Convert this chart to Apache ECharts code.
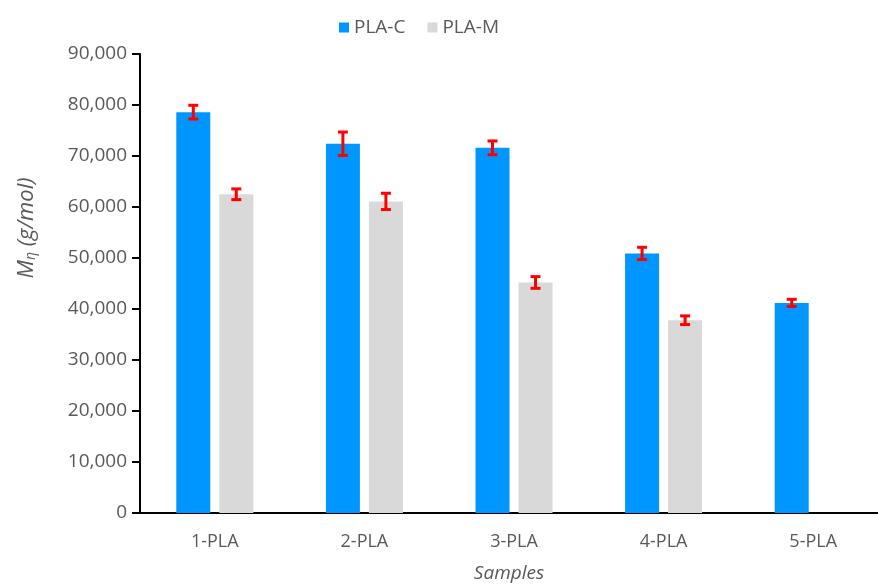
<!DOCTYPE html>
<html>
<head>
<meta charset="utf-8">
<script src="https://cdn.jsdelivr.net/npm/echarts@6/dist/echarts.min.js"></script>
<style>
  html, body { margin: 0; padding: 0; background: #fff; overflow: hidden; }
  #chart { width: 878px; height: 585px; }
</style>
</head>
<body>
<div id="chart"></div>
<script>
// Viscosity-average molecular weight per sample
const categories = ['1-PLA', '2-PLA', '3-PLA', '4-PLA', '5-PLA'];
const seriesNames = ['PLA-C', 'PLA-M'];
const plaC = [78600, 72400, 71600, 50900, 41200];
const plaCErr = [1350, 2300, 1350, 1200, 700];
const plaM = [62500, 61100, 45200, 37800, null];
const plaMErr = [1050, 1600, 1150, 850, null];
const yTicks = { min: 0, max: 90000, interval: 10000 };

const BAR_W = 34;
const BAR_GAP = 9;
const TEXT = '#595959';
const FONT = 'Open Sans';

// I-beam error bar drawn at the bar's value, shifted to the bar's slot
function errorSeries(values, errors, offset) {
  const data = values.map((v, i) => v == null ? null : [i, v, errors[i]]).filter(d => d);
  return {
    type: 'custom',
    z: 10,
    silent: true,
    clip: false,
    data: data,
    encode: { x: 0, y: 1 },
    renderItem: function (params, api) {
      const i = api.value(0), v = api.value(1), e = api.value(2);
      const hi = api.coord([i, v + e]);
      const lo = api.coord([i, v - e]);
      const x = hi[0] + offset;
      const cap = 5;
      const style = { stroke: '#FF0000', lineWidth: 3 };
      return {
        type: 'group',
        children: [
          { type: 'line', shape: { x1: x, y1: hi[1], x2: x, y2: lo[1] }, style: style },
          { type: 'line', shape: { x1: x - cap, y1: hi[1], x2: x + cap, y2: hi[1] }, style: style },
          { type: 'line', shape: { x1: x - cap, y1: lo[1], x2: x + cap, y2: lo[1] }, style: style }
        ]
      };
    }
  };
}

const chart = echarts.init(document.getElementById('chart'), null, { renderer: 'canvas' });
const half = (BAR_W + BAR_GAP) / 2;

chart.setOption({
  animation: false,
  backgroundColor: '#ffffff',
  textStyle: { fontFamily: FONT },
  legend: {
    data: seriesNames,
    left: 334,
    top: 13,
    itemWidth: 10,
    itemHeight: 10,
    itemGap: 22,
    icon: 'rect',
    textStyle: { color: TEXT, fontSize: 19, fontFamily: FONT }
  },
  grid: {
    left: 140, width: 748, top: 54, bottom: 72,
    containLabel: false, outerBoundsMode: 'none'
  },
  xAxis: {
    type: 'category',
    data: categories,
    axisLine: { lineStyle: { color: '#000', width: 2 } },
    axisTick: { show: false },
    axisLabel: { color: TEXT, fontSize: 18, margin: 20, fontFamily: FONT },
    splitLine: { show: false }
  },
  yAxis: {
    type: 'value',
    min: yTicks.min,
    max: yTicks.max,
    interval: yTicks.interval,
    axisLine: { show: true, lineStyle: { color: '#000', width: 2 } },
    axisTick: { show: true, length: 8, lineStyle: { color: '#000', width: 2 } },
    axisLabel: {
      color: TEXT, fontSize: 19, margin: 13, fontFamily: FONT,
      formatter: v => v.toLocaleString('en-US')
    },
    splitLine: { show: false }
  },
  series: [
    {
      name: seriesNames[0], type: 'bar', data: plaC,
      barWidth: BAR_W, barGap: (BAR_GAP / BAR_W * 100) + '%',
      itemStyle: { color: '#0096FF' }
    },
    {
      name: seriesNames[1], type: 'bar', data: plaM.map(v => v == null ? '-' : v),
      barWidth: BAR_W,
      itemStyle: { color: '#D9D9D9' }
    },
    errorSeries(plaC, plaCErr, -half),
    errorSeries(plaM, plaMErr, half)
  ],
  graphic: [
    {
      type: 'text',
      x: 27, y: 228,
      rotation: Math.PI / 2,
      style: {
        text: '{m|M}{s|η}{t| (g/mol)}',
        align: 'center',
        verticalAlign: 'middle',
        rich: {
          m: { fontSize: 22, fontStyle: 'italic', fill: TEXT, fontFamily: FONT },
          s: { fontSize: 14, fontStyle: 'italic', fill: TEXT, fontFamily: FONT, padding: [9, 0, 0, 0] },
          t: { fontSize: 22, fontStyle: 'italic', fill: TEXT, fontFamily: FONT }
        }
      }
    },
    {
      type: 'text',
      x: 509, y: 574,
      style: {
        text: 'Samples',
        align: 'center',
        verticalAlign: 'middle',
        fontSize: 19,
        fontStyle: 'italic',
        fontFamily: FONT,
        fill: TEXT
      }
    }
  ]
});
</script>
</body>
</html>
